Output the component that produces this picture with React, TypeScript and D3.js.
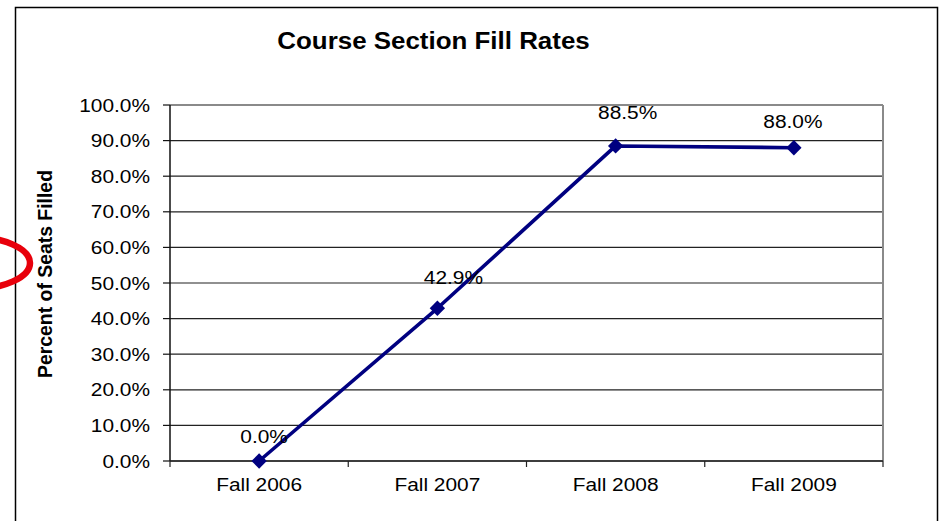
import React from "react";
import * as d3 from "d3";

const categories = ["Fall 2006", "Fall 2007", "Fall 2008", "Fall 2009"];
const fillRates = [0.0, 42.9, 88.5, 88.0];
const valueLabels = ["0.0%", "42.9%", "88.5%", "88.0%"];
const yTicks = [0, 10, 20, 30, 40, 50, 60, 70, 80, 90, 100];
const title = "Course Section Fill Rates";
const yTitle = "Percent of Seats Filled";

// label placement offsets (layout, px) relative to each point
const labelDx = [5, 16, 12, -1];
const labelDy = [-18, -24, -27, -20];

const W = 945;
const H = 521;
const M = { left: 170, right: 883, top: 105, bottom: 461 };
const FONT = "'Liberation Sans', Arial, sans-serif";
const SX = 1.13;

export default function App() {
  const x = d3.scaleBand<string>().domain(categories).range([M.left, M.right]).padding(0);
  const y = d3.scaleLinear().domain([0, 100]).range([M.bottom, M.top]);
  const cx = (c: string) => (x(c) as number) + x.bandwidth() / 2;
  const line = d3
    .line<number>()
    .x((_, i) => cx(categories[i]))
    .y((d) => y(d));
  const diamond = d3.symbol().type(d3.symbolDiamond2).size(150)();
  const bounds = [...categories.map((c) => x(c) as number), M.right];

  return (
    <svg width={W} height={H} style={{ position: "absolute", left: 0, top: 0, background: "#fff" }}>
      <rect x={0} y={0} width={W} height={H} fill="#fff" />
      <rect x={15.5} y={7.5} width={922} height={530} fill="none" stroke="#000" strokeWidth={1.5} />

      {/* title */}
      <g transform={`translate(433.5,49) scale(1.08,1)`}>
        <text textAnchor="middle" fontFamily={FONT} fontWeight="bold" fontSize={24} fill="#000">
          {title}
        </text>
      </g>

      {/* gridlines */}
      {yTicks.map((t) => (
        <line
          key={"g" + t}
          x1={M.left}
          x2={M.right}
          y1={y(t)}
          y2={y(t)}
          stroke={t === 100 ? "#8a8a8a" : "#222"}
          strokeWidth={t === 100 ? 2 : 1.2}
        />
      ))}
      {/* right border */}
      <line x1={M.right} x2={M.right} y1={M.top} y2={M.bottom} stroke="#8a8a8a" strokeWidth={2} />

      {/* y axis */}
      <line x1={M.left} x2={M.left} y1={M.top} y2={M.bottom} stroke="#111" strokeWidth={1.5} />
      {yTicks.map((t) => (
        <g key={"yt" + t}>
          <line x1={M.left - 7} x2={M.left} y1={y(t)} y2={y(t)} stroke="#111" strokeWidth={1.2} />
          <g transform={`translate(150,${y(t) + 6.6}) scale(${SX},1)`}>
            <text textAnchor="end" fontFamily={FONT} fontSize={18.5} fill="#000">
              {t.toFixed(1) + "%"}
            </text>
          </g>
        </g>
      ))}

      {/* x axis */}
      <line x1={M.left} x2={M.right} y1={M.bottom} y2={M.bottom} stroke="#222" strokeWidth={1.5} />
      {bounds.map((b, i) => (
        <line key={"xt" + i} x1={b} x2={b} y1={M.bottom} y2={M.bottom + 6} stroke="#222" strokeWidth={1.2} />
      ))}
      {categories.map((c) => (
        <g key={"xl" + c} transform={`translate(${cx(c)},491) scale(${SX},1)`}>
          <text textAnchor="middle" fontFamily={FONT} fontSize={18.5} fill="#000">
            {c}
          </text>
        </g>
      ))}

      {/* y title */}
      <g transform={`translate(52,274) rotate(-90)`}>
        <text textAnchor="middle" fontFamily={FONT} fontWeight="bold" fontSize={19.4} fill="#000">
          {yTitle}
        </text>
      </g>

      {/* series */}
      <path d={line(fillRates) || ""} fill="none" stroke="#000080" strokeWidth={3.6} strokeLinejoin="round" />
      {fillRates.map((v, i) => (
        <path
          key={"m" + i}
          d={diamond || ""}
          transform={`translate(${cx(categories[i])},${y(v)})`}
          fill="#000080"
        />
      ))}
      {fillRates.map((v, i) => (
        <g
          key={"dl" + i}
          transform={`translate(${cx(categories[i]) + labelDx[i]},${y(v) + labelDy[i]}) scale(${SX},1)`}
        >
          <text textAnchor="middle" fontFamily={FONT} fontSize={18.5} fill="#000">
            {valueLabels[i]}
          </text>
        </g>
      ))}

      {/* red annotation ellipse */}
      <ellipse cx={-28} cy={263} rx={58} ry={26} fill="none" stroke="#e8000b" strokeWidth={6.5} />
    </svg>
  );
}
